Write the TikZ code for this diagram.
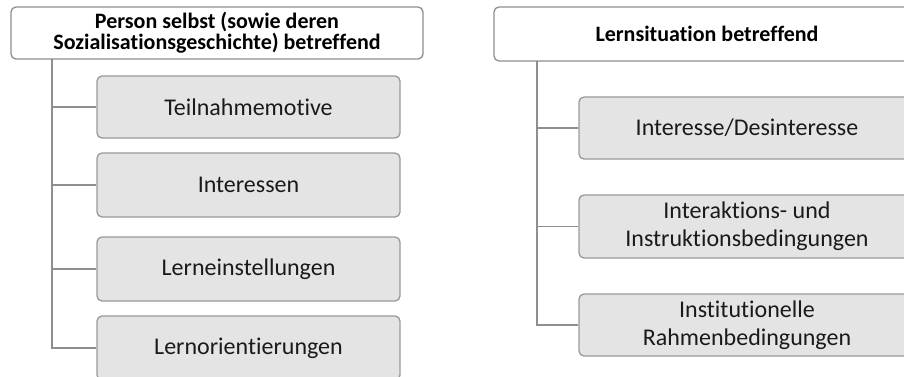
\documentclass[tikz,border=0pt]{standalone}
\usepackage{fontspec}
\setmainfont{Carlito}[RawFeature={-liga;-dlig}]
\definecolor{linegray}{HTML}{8E8E8E}
\definecolor{boxfill}{HTML}{E4E4E4}
\definecolor{txt}{HTML}{1A1A1A}
\begin{document}
\begin{tikzpicture}[x=1pt,y=-1pt,
  hdrbox/.style={draw=linegray, line width=1.3pt, fill=white, rounded corners=5pt,
    inner sep=0pt, align=center, text=black, font=\fontsize{22}{21}\selectfont\bfseries},
  itembox/.style={draw=linegray!90, line width=1.3pt, fill=boxfill, rounded corners=5pt,
    inner sep=0pt, align=center, text=txt, font=\fontsize{24}{28}\selectfont},
  conn/.style={draw=linegray, line width=1.4pt}]
\useasboundingbox (0,0) rectangle (904,376);
\clip (0,0) rectangle (904,376);

% left column: the person
\node[hdrbox, minimum width=412pt, minimum height=52pt] (L0) at (217,33)
  {Person selbst (sowie deren\\Sozialisationsgeschichte) betreffend};
\node[itembox, minimum width=303pt, minimum height=62pt] (L1) at (248.5,107) {Teilnahmemotive};
\node[itembox, minimum width=303pt, minimum height=64pt] (L2) at (248.5,185) {Interessen};
\node[itembox, minimum width=303pt, minimum height=64pt] (L3) at (248.5,269) {Lerneinstellungen};
\node[itembox, minimum width=303pt, minimum height=64pt] (L4) at (248.5,348) {Lernorientierungen};

\coordinate (Ls) at (52,59);
\draw[conn] (Ls) |- (L4.west);
\foreach \n in {L1,L2,L3} \draw[conn] (Ls |- \n.west) -- (\n.west);

% right column: the learning situation
\node[hdrbox, minimum width=426pt, minimum height=54pt] (R0) at (707,34) {Lernsituation betreffend};
\node[itembox, minimum width=336pt, minimum height=62pt] (R1) at (747,128) {Interesse/Desinteresse};
\node[itembox, minimum width=336pt, minimum height=63pt] (R2) at (747,226.5) {Interaktions- und\\Instruktionsbedingungen};
\node[itembox, minimum width=336pt, minimum height=62pt] (R3) at (747,325) {Institutionelle\\Rahmenbedingungen};

\coordinate (Rs) at (537,61);
\draw[conn] (Rs) |- (R3.west);
\foreach \n in {R1,R2} \draw[conn] (Rs |- \n.west) -- (\n.west);
\end{tikzpicture}
\end{document}
